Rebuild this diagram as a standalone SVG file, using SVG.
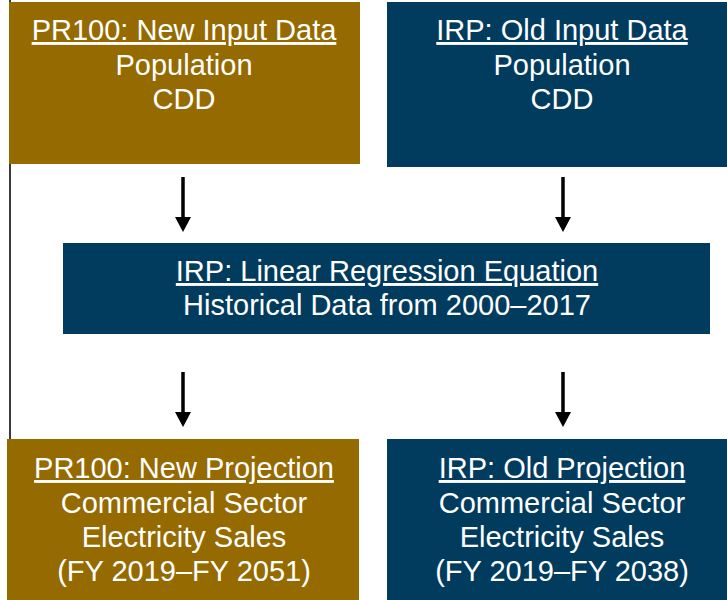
<svg xmlns="http://www.w3.org/2000/svg" width="727" height="600" viewBox="0 0 727 600">
  <style>
    .gold { fill: #956a00; }
    .blue { fill: #013c5e; }
    .t { font-family: "Liberation Sans", Arial, sans-serif; font-size: 29px; fill: #ffffff; text-anchor: middle; }
    .u { text-decoration: underline; }
    .arrow { stroke: #000000; stroke-width: 3.5; fill: none; marker-end: url(#head); }
  </style>
  <defs>
    <marker id="head" viewBox="0 0 15 16" refX="0" refY="8" markerWidth="15" markerHeight="16" markerUnits="userSpaceOnUse" orient="auto">
      <path d="M0,0 L15,8 L0,16 Z" fill="#000000"/>
    </marker>
  </defs>
  <rect x="0" y="0" width="727" height="600" fill="#ffffff"/>
  <line x1="10" y1="0" x2="10" y2="439" stroke="#3a3a3a" stroke-width="2"/>

  <g id="pr100-input">
    <rect class="gold" x="9" y="2" width="351" height="162"/>
    <text class="t u" x="184" y="40">PR100: New Input Data</text>
    <text class="t" x="184" y="74.5">Population</text>
    <text class="t" x="184" y="109">CDD</text>
  </g>

  <g id="irp-input">
    <rect class="blue" x="387" y="2" width="340" height="165"/>
    <text class="t u" x="562" y="40">IRP: Old Input Data</text>
    <text class="t" x="562" y="74.5">Population</text>
    <text class="t" x="562" y="109">CDD</text>
  </g>

  <g id="irp-regression">
    <rect class="blue" x="63" y="243" width="647" height="91"/>
    <text class="t u" x="387" y="281">IRP: Linear Regression Equation</text>
    <text class="t" x="387" y="315">Historical Data from 2000–2017</text>
  </g>

  <g id="pr100-projection">
    <rect class="gold" x="7" y="439" width="352" height="161"/>
    <text class="t u" x="184" y="478">PR100: New Projection</text>
    <text class="t" x="184" y="512.5">Commercial Sector</text>
    <text class="t" x="184" y="547">Electricity Sales</text>
    <text class="t" x="184" y="581">(FY 2019–FY 2051)</text>
  </g>

  <g id="irp-projection">
    <rect class="blue" x="387" y="439" width="340" height="161"/>
    <text class="t u" x="562" y="478">IRP: Old Projection</text>
    <text class="t" x="562" y="512.5">Commercial Sector</text>
    <text class="t" x="562" y="547">Electricity Sales</text>
    <text class="t" x="562" y="581">(FY 2019–FY 2038)</text>
  </g>

  <g id="connectors">
    <line class="arrow" x1="183" y1="177" x2="183" y2="217"/>
    <line class="arrow" x1="563" y1="177" x2="563" y2="217"/>
    <line class="arrow" x1="183" y1="372" x2="183" y2="412"/>
    <line class="arrow" x1="563" y1="372" x2="563" y2="412"/>
  </g>
</svg>
